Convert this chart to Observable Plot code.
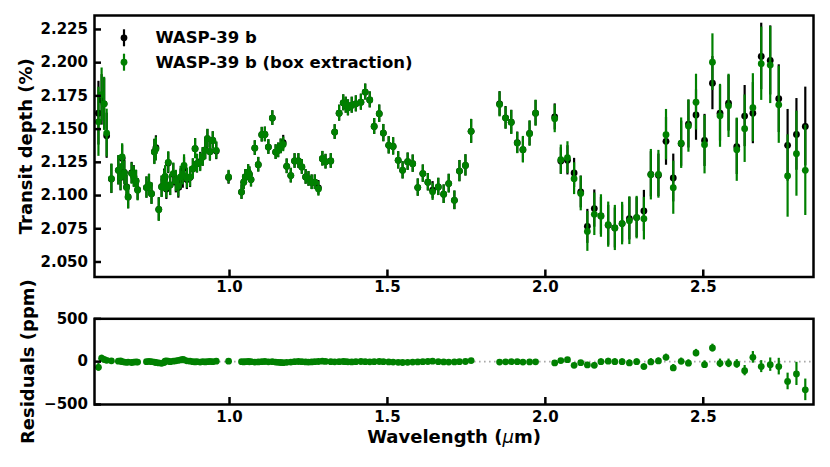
<!DOCTYPE html>
<html><head><meta charset="utf-8">
<script src="https://cdn.jsdelivr.net/npm/d3@7"></script>
<script src="https://cdn.jsdelivr.net/npm/@observablehq/plot@0.6"></script>
<style>
body{margin:0;background:#fff}
#chart{width:830px;height:467px;position:relative}
#chart svg{display:block}
</style>
</head><body><div id="chart"></div>
<script>
// Wavelength (µm)
const wavelength = [
 0.585,0.595,0.603,0.611,0.626,0.648,0.655,0.660,0.667,0.674,0.679,0.690,0.697,0.704,0.709,0.737,0.745,0.753,0.762,0.767,0.776,0.785,0.793,0.796,0.800,0.806,0.812,0.822,0.830,0.838,0.845,0.852,0.856,0.865,0.875,0.884,0.891,0.897,0.907,0.915,0.923,0.930,0.938,0.947,0.958,0.997,
 1.038,1.045,1.050,1.059,1.063,1.068,1.080,1.091,1.102,1.112,1.123,1.1355,1.146,1.154,1.162,1.170,1.181,1.194,1.206,1.218,1.229,1.241,1.250,1.260,1.270,1.2815,1.294,1.304,1.3206,1.333,1.347,1.360,1.368,1.375,1.387,1.400,1.416,1.4296,1.444,1.458,1.474,1.487,1.504,1.518,1.534,1.548,1.564,1.580,1.596,1.612,1.628,1.643,1.661,1.678,1.694,1.712,1.728,1.747,1.765,
 1.855,1.874,1.892,1.911,1.929,1.950,1.969,
 2.0296,2.049,2.070,2.091,2.112,2.133,2.155,2.176,2.199,2.220,2.243,2.266,2.289,2.312,2.334,2.358,2.382,2.405,2.430,2.453,2.477,2.504,2.529,2.553,2.580,2.606,2.631,2.657,2.6835,2.712,2.739,2.767,2.795,2.823
];
// WASP-39 b transit depth (%)
const depth = [
 2.162,2.172,2.169,2.145,2.1125,2.119,2.1135,2.128,2.1175,2.1065,2.099,2.117,2.1145,2.111,2.1045,2.106,2.108,2.1014,2.133,2.136,2.0896,2.1067,2.112,2.114,2.105,2.1245,2.108,2.116,2.110,2.106,2.112,2.1135,2.1205,2.112,2.1135,2.120,2.1353,2.124,2.1255,2.129,2.1343,2.1428,2.133,2.1415,2.1335,2.1135,
 2.1026,2.110,2.114,2.1177,2.116,2.112,2.1357,2.1232,2.1458,2.146,2.1365,2.1583,2.1327,2.134,2.137,2.1398,2.122,2.115,2.126,2.126,2.1215,2.114,2.1125,2.110,2.110,2.1058,2.1277,2.1255,2.126,2.1478,2.162,2.1698,2.168,2.166,2.168,2.169,2.1703,2.1779,2.172,2.152,2.1616,2.147,2.1378,2.137,2.1265,2.119,2.1255,2.124,2.106,2.1165,2.110,2.1040,2.1065,2.101,2.109,2.0964,2.1184,2.1227,2.1483,
 2.1690,2.1585,2.1552,2.1398,2.1345,2.1468,2.1620,
 2.1592,2.126,2.1265,2.117,2.1027,2.0768,2.0902,2.0846,2.0776,2.0756,2.0789,2.0826,2.0834,2.0884,2.1160,2.1152,2.1408,2.1132,2.139,2.1538,2.1606,2.1415,2.1846,2.1620,2.1695,2.1368,2.1598,2.1620,2.2047,2.2017,2.1729,2.1378,2.1460,2.1520
];
const depthErr = [
 0.024,0.019,0.019,0.017,0.011,0.011,0.010,0.010,0.009,0.009,0.009,0.008,0.008,0.008,0.008,0.008,0.008,0.008,0.0094,0.009,0.0088,0.008,0.008,0.008,0.008,0.008,0.008,0.008,0.008,0.008,0.008,0.008,0.008,0.0075,0.0075,0.0075,0.0075,0.007,0.007,0.007,0.007,0.007,0.007,0.0065,0.0065,0.005,
 0.0055,0.0055,0.0055,0.0055,0.0055,0.0055,0.0055,0.0055,0.0055,0.0055,0.0055,0.0055,0.0055,0.0055,0.0055,0.0055,0.0055,0.0055,0.0055,0.0055,0.0055,0.0055,0.0055,0.0055,0.0055,0.0055,0.0055,0.0055,0.0055,0.0055,0.006,0.006,0.006,0.006,0.006,0.006,0.006,0.006,0.006,0.006,0.0065,0.0065,0.0065,0.0065,0.0065,0.0065,0.0065,0.0065,0.0065,0.0065,0.0065,0.0065,0.0065,0.007,0.007,0.007,0.008,0.008,0.009,
 0.0092,0.0085,0.009,0.008,0.0095,0.0092,0.0095,
 0.0098,0.010,0.011,0.011,0.012,0.0128,0.014,0.014,0.015,0.015,0.014,0.016,0.015,0.0155,0.017,0.016,0.018,0.018,0.017,0.018,0.019,0.0196,0.020,0.021,0.021,0.021,0.023,0.023,0.025,0.026,0.0255,0.027,0.027,0.0296
];
// WASP-39 b (box extraction) transit depth (%)
const boxDepth = [
 2.1555,2.176,2.169,2.147,2.1127,2.119,2.114,2.129,2.117,2.106,2.099,2.1165,2.114,2.111,2.104,2.106,2.108,2.1014,2.1327,2.135,2.0894,2.1065,2.111,2.1145,2.106,2.125,2.108,2.1165,2.111,2.107,2.114,2.116,2.1227,2.113,2.114,2.1202,2.1353,2.124,2.125,2.129,2.134,2.1428,2.133,2.1415,2.134,2.114,
 2.1026,2.110,2.114,2.1177,2.116,2.112,2.1357,2.1232,2.1458,2.146,2.1365,2.1583,2.1327,2.134,2.137,2.1385,2.122,2.115,2.126,2.126,2.1215,2.114,2.1125,2.110,2.110,2.105,2.1277,2.1255,2.126,2.1478,2.162,2.1698,2.168,2.166,2.168,2.169,2.1703,2.1779,2.172,2.152,2.1616,2.147,2.1378,2.137,2.1265,2.119,2.1255,2.124,2.106,2.1165,2.110,2.1028,2.1065,2.101,2.109,2.0964,2.1184,2.1227,2.1483,
 2.1686,2.1583,2.155,2.1395,2.1345,2.1466,2.162,
 2.1578,2.127,2.1285,2.1127,2.1015,2.073,2.0859,2.0846,2.0781,2.0756,2.0789,2.0811,2.0834,2.0826,2.1157,2.116,2.1458,2.1059,2.1394,2.1523,2.1703,2.1383,2.2004,2.1600,2.1675,2.1345,2.1503,2.1661,2.1992,2.1982,2.1683,2.1147,2.1315,2.1190
];
const boxErr = [
 0.026,0.020,0.020,0.018,0.011,0.011,0.010,0.010,0.009,0.009,0.009,0.008,0.008,0.008,0.008,0.008,0.008,0.008,0.0094,0.009,0.0088,0.008,0.008,0.008,0.008,0.008,0.008,0.008,0.008,0.008,0.008,0.008,0.008,0.0075,0.0075,0.0075,0.0075,0.007,0.007,0.007,0.007,0.007,0.007,0.0065,0.0065,0.005,
 0.0055,0.0055,0.0055,0.0055,0.0055,0.0055,0.0055,0.0055,0.0055,0.0055,0.0055,0.0055,0.0055,0.0055,0.0055,0.0055,0.0055,0.0055,0.0055,0.0055,0.0055,0.0055,0.0055,0.0055,0.0055,0.0055,0.0055,0.0055,0.0055,0.0055,0.006,0.006,0.006,0.006,0.006,0.006,0.006,0.006,0.006,0.006,0.0065,0.0065,0.0065,0.0065,0.0065,0.0065,0.0065,0.0065,0.0065,0.0065,0.0065,0.0065,0.0065,0.007,0.007,0.007,0.008,0.008,0.009,
 0.0094,0.0083,0.009,0.008,0.010,0.0096,0.0098,
 0.0105,0.011,0.012,0.012,0.013,0.015,0.016,0.016,0.017,0.017,0.016,0.018,0.016,0.016,0.019,0.018,0.019,0.020,0.019,0.0197,0.021,0.022,0.0213,0.0237,0.0238,0.0238,0.0254,0.0256,0.0276,0.029,0.029,0.031,0.032,0.034
];
// Residuals (ppm)
const residual = [
 -66,40,25,15,10,5,8,0,-5,-8,-5,-10,-5,-3,-5,0,3,0,-5,-10,-15,-20,-10,5,10,5,0,5,10,15,20,25,20,10,5,0,-3,0,-5,0,-3,0,2,0,5,5,
 0,-3,0,2,-2,0,-5,-3,0,2,-2,0,-5,-8,-10,-12,-8,-5,0,2,0,-3,-5,-3,0,2,5,3,0,-2,0,2,0,-2,-3,0,2,0,-2,0,2,0,-3,-5,-8,-10,-8,-5,-3,0,2,5,0,-3,-5,-3,0,2,12,
 -5,-2,0,0,-5,-3,-2,
 -15,12,23,-43,-12,-38,-43,0,5,0,0,-15,0,-58,-3,8,50,-73,4,-18,101,-35,159,-20,-20,-27,-105,50,-58,-35,-58,-231,-143,-329
];
const residualErr = [
 45,35,25,20,15,12,12,12,12,12,12,10,10,10,10,10,10,10,10,10,10,10,10,10,10,10,10,10,10,10,10,10,10,10,10,10,10,10,10,10,10,10,10,10,10,8,
 10,10,10,10,10,10,10,10,10,10,10,10,10,10,10,10,10,10,10,10,10,10,10,10,10,10,10,10,10,10,10,10,10,10,10,10,10,10,10,10,10,10,10,10,10,10,10,10,10,10,10,10,12,12,12,12,14,14,15,
 15,15,15,15,15,15,15,
 20,22,24,24,26,30,32,32,34,34,32,36,32,32,38,36,38,40,38,40,42,44,45,50,50,50,60,68,70,78,97,97,135,126
];
const xTicks = [1.0, 1.5, 2.0, 2.5];
const depthTicks = [2.050, 2.075, 2.100, 2.125, 2.150, 2.175, 2.200, 2.225];
const residTicks = [-500, 0, 500];
const seriesNames = ["WASP-39 b", "WASP-39 b (box extraction)"];
const seriesColors = ["black", "green"];

const rows = wavelength.map((w, i) => ({
  w, d: depth[i], de: depthErr[i], b: boxDepth[i], be: boxErr[i], r: residual[i], re: residualErr[i]
}));

const W = 830, ML = 94, MR = 17;
const innerW = W - ML - MR;
const style = {fontFamily: "'DejaVu Sans', sans-serif", fontSize: "15px", fontWeight: "bold", background: "white", color: "black", overflow: "visible"};
const xDomain = [0.5725, 2.849];
const errSym = {draw(ctx) { ctx.moveTo(0, -8.5); ctx.lineTo(0, 8.5); }};
const R = 3.4, EW = 2.2;

const H1 = 300, MT1 = 15, MB1 = 23.5, innerH1 = H1 - MT1 - MB1;
const topPlot = Plot.plot({
  width: W, height: H1, marginLeft: ML, marginRight: MR, marginTop: MT1, marginBottom: MB1,
  style,
  x: {domain: xDomain},
  y: {domain: [2.0387, 2.2355]},
  marks: [
    Plot.ruleX(rows, {x: "w", y1: d => d.d - d.de, y2: d => d.d + d.de, stroke: seriesColors[0], strokeWidth: EW}),
    Plot.dot(rows, {x: "w", y: "d", r: R, fill: seriesColors[0]}),
    Plot.ruleX(rows, {x: "w", y1: d => d.b - d.be, y2: d => d.b + d.be, stroke: seriesColors[1], strokeWidth: EW}),
    Plot.dot(rows, {x: "w", y: "b", r: R, fill: seriesColors[1]}),
    Plot.tickX(xTicks, {x: d => d, insetTop: innerH1 - 7, stroke: "black", strokeWidth: 2.5}),
    Plot.tickY(depthTicks, {y: d => d, insetRight: innerW - 7, stroke: "black", strokeWidth: 2.5}),
    Plot.axisX(xTicks, {tickSize: 0, tickPadding: 4.5, tickFormat: d3.format(".1f"), label: null}),
    Plot.axisY(depthTicks, {tickSize: 0, tickPadding: 6.5, tickFormat: d3.format(".3f"), label: null}),
    Plot.frame({stroke: "black", strokeWidth: 2.5}),
    Plot.text(["Transit depth (%)"], {frameAnchor: "left", dx: -68, rotate: -90, textAnchor: "middle", lineAnchor: "middle", fontSize: 18, text: d => d}),
    // legend
    Plot.dot([seriesNames[0]], {frameAnchor: "top-left", dx: 29.5, dy: 22.3, symbol: errSym, stroke: seriesColors[0], strokeWidth: EW, fill: "none"}),
    Plot.dot([seriesNames[0]], {frameAnchor: "top-left", dx: 29.5, dy: 22.3, r: R, fill: seriesColors[0]}),
    Plot.text([seriesNames[0]], {frameAnchor: "top-left", dx: 61, dy: 22.5, textAnchor: "start", lineAnchor: "middle", fontSize: 16.5, text: d => d}),
    Plot.dot([seriesNames[1]], {frameAnchor: "top-left", dx: 29.5, dy: 46.7, symbol: errSym, stroke: seriesColors[1], strokeWidth: EW, fill: "none"}),
    Plot.dot([seriesNames[1]], {frameAnchor: "top-left", dx: 29.5, dy: 46.7, r: R, fill: seriesColors[1]}),
    Plot.text([seriesNames[1]], {frameAnchor: "top-left", dx: 61, dy: 47.5, textAnchor: "start", lineAnchor: "middle", fontSize: 16.5, text: d => d})
  ]
});

const H2 = 167, MT2 = 18.3, MB2 = 63, innerH2 = H2 - MT2 - MB2;
const botPlot = Plot.plot({
  width: W, height: H2, marginLeft: ML, marginRight: MR, marginTop: MT2, marginBottom: MB2,
  style,
  x: {domain: xDomain},
  y: {domain: [-500, 500]},
  marks: [
    Plot.ruleY([0], {stroke: "#a8a8a8", strokeWidth: 1.6, strokeDasharray: "1.6,3.4"}),
    Plot.ruleX(rows, {x: "w", y1: d => d.r - d.re, y2: d => d.r + d.re, stroke: seriesColors[1], strokeWidth: EW}),
    Plot.dot(rows, {x: "w", y: "r", r: R, fill: seriesColors[1]}),
    Plot.tickX(xTicks, {x: d => d, insetTop: innerH2 - 7, stroke: "black", strokeWidth: 2.5}),
    Plot.tickY(residTicks, {y: d => d, insetRight: innerW - 7, stroke: "black", strokeWidth: 2.5}),
    Plot.axisX(xTicks, {tickSize: 0, tickPadding: 6.5, tickFormat: d3.format(".1f"), label: null}),
    Plot.axisY(residTicks, {tickSize: 0, tickPadding: 6.5, tickFormat: d3.format("d"), label: null}),
    Plot.frame({stroke: "black", strokeWidth: 2.5}),
    Plot.text(["Residuals (ppm)"], {frameAnchor: "left", dx: -66, rotate: -90, textAnchor: "middle", lineAnchor: "middle", fontSize: 18, text: d => d}),
    Plot.text(["Wavelength (μm)"], {frameAnchor: "bottom", dy: 33, lineAnchor: "middle", textAnchor: "middle", fontSize: 18, text: d => d})
  ]
});

const chart = document.getElementById("chart");
chart.appendChild(topPlot);
chart.appendChild(botPlot);

// italic µ as in the original mathtext label
for (const t of botPlot.querySelectorAll("text")) {
  if (t.textContent === "Wavelength (μm)") {
    const NS = "http://www.w3.org/2000/svg";
    while (t.firstChild) t.removeChild(t.firstChild);
    const parts = [["Wavelength (", null], ["μ", "italic"], ["m)", null]];
    for (const [s, fs] of parts) {
      const sp = document.createElementNS(NS, "tspan");
      sp.textContent = s;
      if (fs) { sp.setAttribute("font-style", fs); sp.setAttribute("font-weight", "normal"); }
      t.appendChild(sp);
    }
  }
}
</script>
</body></html>
